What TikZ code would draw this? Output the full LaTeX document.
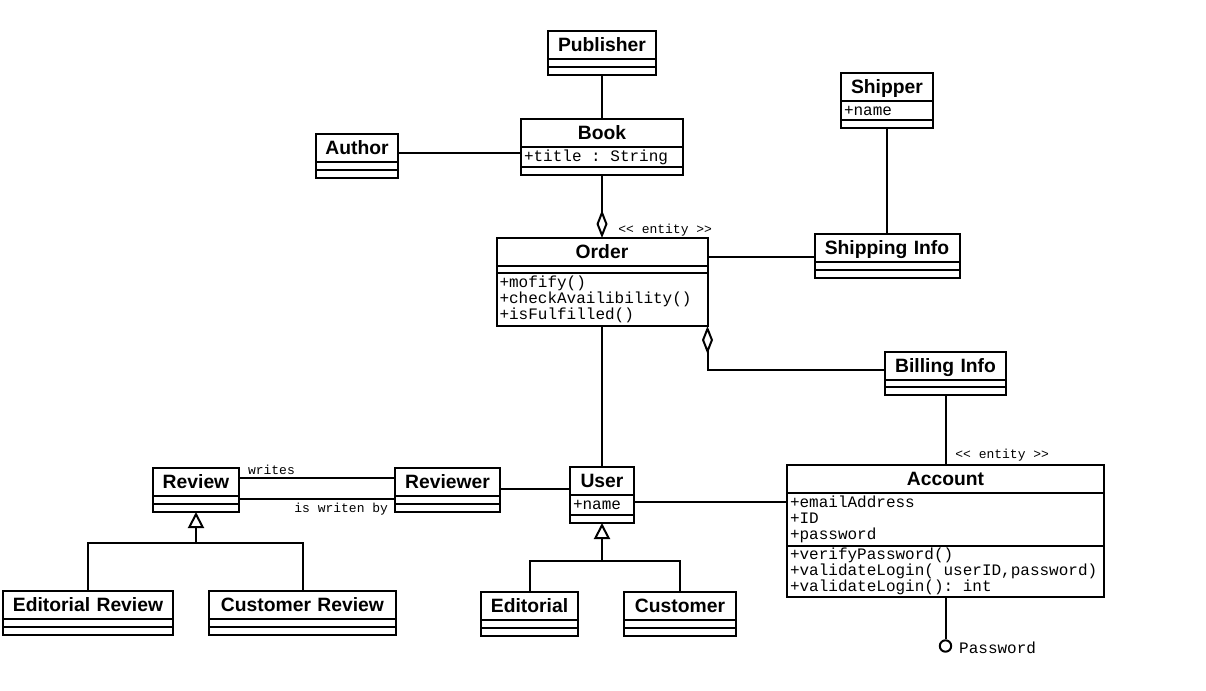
\documentclass[tikz,border=0pt]{standalone}
\usepackage{fontspec}
\newfontfamily\umlsans{Liberation Sans}
\newfontfamily\umlmono{Liberation Mono}[WordSpace={1,0,0}]
\newcommand{\monosp}{\hspace*{0.6em}}
\usetikzlibrary{positioning}
\usetikzlibrary{arrows.meta}

\begin{document}
\begin{tikzpicture}[
    x=0.5pt, y=-0.5pt,
    line width=1pt
]
\tikzset{
    clsname/.style = {draw, text width=#1, align=center, inner xsep=1.5pt, inner ysep=0pt,
        outer sep=0pt, minimum height=14pt, anchor=north, text height=7pt, text depth=0.1pt,
        font=\umlsans\bfseries\fontsize{9.65pt}{11pt}\selectfont},
    clspart/.style = {draw, text width=#1, align=left, inner xsep=1.5pt, inner ysep=0pt,
        outer sep=0pt, minimum height=4pt, attrtxt},
    clsnone/.style = {draw, minimum width=#1, minimum height=4pt, inner sep=0pt, outer sep=0pt},
    attrtxt/.style = {font=\umlmono\fontsize{8pt}{8pt}\selectfont},
    stereo/.style = {font=\umlmono\fontsize{6.5pt}{7pt}\selectfont, inner sep=1pt},
    aggr/.style = {-{Diamond[open,length=14pt,width=5.5pt]}},
    gen/.style = {-{Triangle[open,length=8pt,width=8pt]}}
}
\useasboundingbox (0,0) rectangle (1206,691);

% publisher, author, book
\node[clsname=51pt] (pub) at (602,31) {Publisher};
\node[clsnone=54pt, below=0pt of pub] (pub-a) {};
\node[clsnone=54pt, below=0pt of pub-a] (pub-o) {};

\node[clsname=38pt] (author) at (357,134) {Author};
\node[clsnone=41pt, below=0pt of author] (author-a) {};
\node[clsnone=41pt, below=0pt of author-a] (author-o) {};

\node[clsname=78pt] (book) at (602,119) {Book};
\node[clspart=78pt, minimum height=10pt, below=0pt of book] (book-a) {+title\monosp:\monosp String};
\node[clsnone=81pt, below=0pt of book-a] (book-o) {};

% shipping side
\node[clsname=43pt] (shipper) at (887,73) {Shipper};
\node[clspart=43pt, minimum height=9.5pt, below=0pt of shipper] (shipper-a) {+name};
\node[clsnone=46pt, below=0pt of shipper-a] (shipper-o) {};

\node[clsname=69.5pt] (shipinfo) at (887,234) {Shipping Info};
\node[clsnone=72.5pt, below=0pt of shipinfo] (shipinfo-a) {};
\node[clsnone=72.5pt, below=0pt of shipinfo-a] (shipinfo-o) {};

\node[clsname=57.5pt] (bill) at (945.5,352) {Billing Info};
\node[clsnone=60.5pt, minimum height=3.5pt, below=0pt of bill] (bill-a) {};
\node[clsnone=60.5pt, below=0pt of bill-a] (bill-o) {};

% order
\node[clsname=102.5pt] (order) at (602,238) {Order};
\node[clsnone=105.5pt, minimum height=3.5pt, below=0pt of order] (order-a) {};
\node[clspart=102.5pt, minimum height=26.5pt, below=0pt of order-a] (order-o)
    {+mofify()\\+checkAvailibility()\\+isFulfilled()};
\node[stereo, anchor=east] (order-st) at (715,230) {<\kern0pt<\monosp entity\monosp>\kern0pt>};

% account
\node[clsname=155.5pt] (account) at (945.5,465) {Account};
\node[clspart=155.5pt, minimum height=26.5pt, below=0pt of account] (account-a)
    {+emailAddress\\+ID\\+password};
\node[clspart=155.5pt, minimum height=25.5pt, below=0pt of account-a] (account-o)
    {+verifyPassword()\\+validateLogin(\monosp userID,password)\\+validateLogin():\monosp int};
\node[stereo, anchor=east] (account-st) at (1052,455) {<\kern0pt<\monosp entity\monosp>\kern0pt>};
\node[circle, draw, minimum size=5.7pt, inner sep=0pt] (pwd) at (945.5,646) {};
\node[attrtxt, anchor=base west, inner sep=0pt] (pwd-l) at ([xshift=3pt,yshift=-3.5pt]pwd.east) {Password};

% users
\node[clsname=29pt] (user) at (602,467) {User};
\node[clspart=29pt, minimum height=10pt, below=0pt of user] (user-a) {+name};
\node[clsnone=32pt, below=0pt of user-a] (user-o) {};

\node[clsname=45.5pt] (editorial) at (529.5,592) {Editorial};
\node[clsnone=48.5pt, below=0pt of editorial] (editorial-a) {};
\node[clsnone=48.5pt, below=0pt of editorial-a] (editorial-o) {};

\node[clsname=53pt] (customer) at (680,592) {Customer};
\node[clsnone=56pt, below=0pt of customer] (customer-a) {};
\node[clsnone=56pt, below=0pt of customer-a] (customer-o) {};

% reviews
\node[clsname=40pt] (review) at (196,468) {Review};
\node[clsnone=43pt, below=0pt of review] (review-a) {};
\node[clsnone=43pt, below=0pt of review-a] (review-o) {};

\node[clsname=49.5pt] (reviewer) at (447.5,468) {Reviewer};
\node[clsnone=52.5pt, below=0pt of reviewer] (reviewer-a) {};
\node[clsnone=52.5pt, below=0pt of reviewer-a] (reviewer-o) {};

\node[clsname=82pt] (edrev) at (88,591) {Editorial Review};
\node[clsnone=85pt, below=0pt of edrev] (edrev-a) {};
\node[clsnone=85pt, below=0pt of edrev-a] (edrev-o) {};

\node[clsname=90.5pt] (custrev) at (302.5,591) {Customer Review};
\node[clsnone=93.5pt, below=0pt of custrev] (custrev-a) {};
\node[clsnone=93.5pt, below=0pt of custrev-a] (custrev-o) {};

% associations
\draw (pub-o) -- (book);
\draw (author.east |- 0,153) -- (book-a.west |- 0,153);
\draw[aggr] (book-o) -- (order);
\draw (order.east |- 0,257) -- (shipinfo.west |- 0,257);
\draw (shipper-o) -- (shipinfo);
\draw[aggr] (bill.west |- 0,370) -| (order-o.south east);
\draw (bill-o) -- (account);
\draw (account-o) -- (pwd);
\draw (order-o) -- (user);
\draw (user-a.east |- 0,502) -- (account-a.west |- 0,502);
\draw (reviewer.east |- 0,489) -- (user.west |- 0,489);
\draw (review.east |- 0,478) -- node[stereo, pos=0, anchor=south west, xshift=3pt] {writes}
    (reviewer.west |- 0,478);
\draw (review-a.east |- 0,499) -- node[stereo, pos=1, anchor=north east, xshift=-2pt, yshift=-0.75pt] {is\monosp writen\monosp by}
    (reviewer-a.west |- 0,499);

% generalisations
\coordinate (revj) at (review-o.south |- 0,543);
\draw (edrev.north) |- (revj) -| (custrev.north);
\draw[gen] (revj) -- (review-o.south);
\coordinate (userj) at (user-o.south |- 0,561);
\draw (editorial.north) |- (userj) -| (customer.north);
\draw[gen] (userj) -- (user-o.south);
\end{tikzpicture}
\end{document}
